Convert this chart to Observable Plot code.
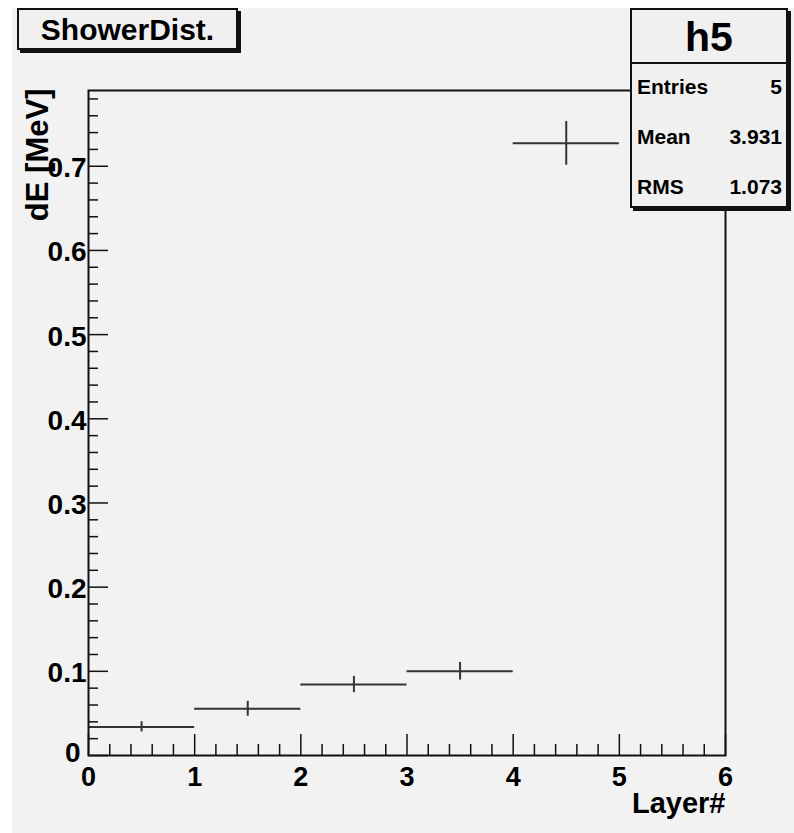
<!DOCTYPE html>
<html>
<head>
<meta charset="utf-8">
<script src="https://cdn.jsdelivr.net/npm/d3@7"></script>
<script src="https://cdn.jsdelivr.net/npm/@observablehq/plot@0.6"></script>
<style>
  html, body { margin: 0; padding: 0; background: #ffffff; }
  #wrap { position: relative; width: 794px; height: 833px; overflow: hidden;
          font-family: "Liberation Sans", Arial, Helvetica, sans-serif; color: #000; }
  #pad { position: absolute; left: 12px; top: 8px; right: 0; bottom: 0; background: #f2f2f2; }
  #chart { position: absolute; left: 0; top: 0; }
  .box { position: absolute; background: #f0f0f0; border: 2px solid #111; box-shadow: 3px 3px 0 #111; box-sizing: border-box; }
  #title { left: 17px; top: 8px; width: 221px; height: 42px; font-weight: bold; font-size: 30px;
           text-align: center; line-height: 40px; }
  #stats { left: 630px; top: 8px; width: 158px; height: 200px; font-weight: bold; }
  #stats .name { position: absolute; left: 0; right: 0; top: 0; height: 52px; border-bottom: 2px solid #111;
                 text-align: center; font-size: 41px; line-height: 54px; }
  #stats .row { position: absolute; left: 5px; right: 4px; height: 26px; font-size: 21px; line-height: 26px; }
  #stats .row span.v { position: absolute; right: 0; }
</style>
</head>
<body>
<div id="wrap">
  <div id="pad"></div>
  <div id="chart"></div>
  <div id="title" class="box"></div>
  <div id="stats" class="box"></div>
</div>
<script>
// ---- data ----
const layerLow  = [0, 1, 2, 3, 4];
const layerHigh = [1, 2, 3, 4, 5];
const dE    = [0.0340, 0.0555, 0.0843, 0.1001, 0.7272];
const dEerr = [0.0060, 0.0089, 0.0097, 0.0105, 0.0260];

const xMajorTicks = [0, 1, 2, 3, 4, 5, 6];
const xTickLabels = ["0", "1", "2", "3", "4", "5", "6"];
const yMajorTicks = [0, 0.1, 0.2, 0.3, 0.4, 0.5, 0.6, 0.7];
const yTickLabels = ["0", "0.1", "0.2", "0.3", "0.4", "0.5", "0.6", "0.7"];
const xMinorTicks = d3.range(0, 6.001, 0.2).map(v => +v.toFixed(2)).filter(v => !xMajorTicks.includes(v));
const yMinorTicks = d3.range(0, 0.7801, 0.02).map(v => +v.toFixed(2)).filter(v => !yMajorTicks.some(m => Math.abs(m - v) < 1e-9));

const histTitle = "ShowerDist.";
const histName = "h5";
const statLabels = ["Entries", "Mean", "RMS"];
const statValues = ["5", "3.931", "1.073"];
const xTitle = "Layer#";
const yTitle = "dE [MeV]";

const rows = layerLow.map((lo, i) => ({lo, hi: layerHigh[i], mid: (lo + layerHigh[i]) / 2, v: dE[i], e: dEerr[i]}));

// ---- chart ----
const W = 794, H = 833;
const mL = 88, mR = 69, mT = 90, mB = 78;
const frameH = H - mT - mB, frameW = W - mL - mR;
const ink = "#111";
const dataInk = "#333";
const yIdx = yMajorTicks.map((d, i) => i);

const chart = Plot.plot({
  width: W, height: H,
  marginLeft: mL, marginRight: mR, marginTop: mT, marginBottom: mB,
  style: {background: "transparent", fontFamily: '"Liberation Sans", Arial, Helvetica, sans-serif', color: "#000", overflow: "visible"},
  x: {domain: [0, 6], axis: null},
  y: {domain: [0, 0.79], axis: null},
  marks: [
    // ticks (inward)
    Plot.tickX(xMajorTicks, {x: d => d, insetTop: frameH - 21, stroke: ink, strokeWidth: 1.5}),
    Plot.tickX(xMinorTicks, {x: d => d, insetTop: frameH - 11, stroke: ink, strokeWidth: 1.5}),
    Plot.tickY(yMajorTicks, {y: d => d, insetRight: frameW - 20, stroke: ink, strokeWidth: 1.5}),
    Plot.tickY(yMinorTicks, {y: d => d, insetRight: frameW - 10, stroke: ink, strokeWidth: 1.5}),
    // tick labels
    Plot.text(xMajorTicks, {x: d => d, text: (d, i) => xTickLabels[i], frameAnchor: "bottom", lineAnchor: "top",
      dy: 11, fontSize: 27, fontWeight: "bold", fill: "#000"}),
    Plot.text(yIdx.filter(i => i > 0), {y: i => yMajorTicks[i], text: i => yTickLabels[i], frameAnchor: "left", textAnchor: "end",
      dx: -2, dy: 2, fontSize: 28, fontWeight: "bold", fill: "#000"}),
    Plot.text(yIdx.filter(i => i === 0), {y: i => yMajorTicks[i], text: i => yTickLabels[i], frameAnchor: "left", textAnchor: "end",
      dx: -8, dy: -2, fontSize: 28, fontWeight: "bold", fill: "#000"}),
    // axis titles
    Plot.text([xTitle], {text: d => d, frameAnchor: "bottom-right", textAnchor: "end", lineAnchor: "middle",
      dy: 48, fontSize: 29, fontWeight: "bold", fill: "#000"}),
    Plot.text([yTitle], {text: d => d, frameAnchor: "top-left", rotate: -90, textAnchor: "end", lineAnchor: "middle",
      dx: -50, dy: -2, fontSize: 31, fontWeight: "bold", fill: "#000"}),
    // data
    Plot.ruleY(rows, {y: "v", x1: "lo", x2: "hi", stroke: dataInk, strokeWidth: 2}),
    Plot.ruleX(rows, {x: "mid", y1: d => d.v - d.e, y2: d => d.v + d.e, stroke: dataInk, strokeWidth: 2}),
    // frame
    Plot.frame({stroke: ink, strokeWidth: 2})
  ]
});
document.getElementById("chart").appendChild(chart);

// ---- title & stats boxes ----
document.getElementById("title").textContent = histTitle;
const stats = document.getElementById("stats");
const nameDiv = document.createElement("div");
nameDiv.className = "name";
nameDiv.textContent = histName;
stats.appendChild(nameDiv);
const rowCenters = [87, 137, 187];
statLabels.forEach((lab, i) => {
  const r = document.createElement("div");
  r.className = "row";
  r.style.top = (rowCenters[i] - 8 - 13 - 2) + "px";
  const a = document.createElement("span");
  a.textContent = lab;
  const b = document.createElement("span");
  b.className = "v";
  b.textContent = statValues[i];
  r.appendChild(a); r.appendChild(b);
  stats.appendChild(r);
});
</script>
</body>
</html>
